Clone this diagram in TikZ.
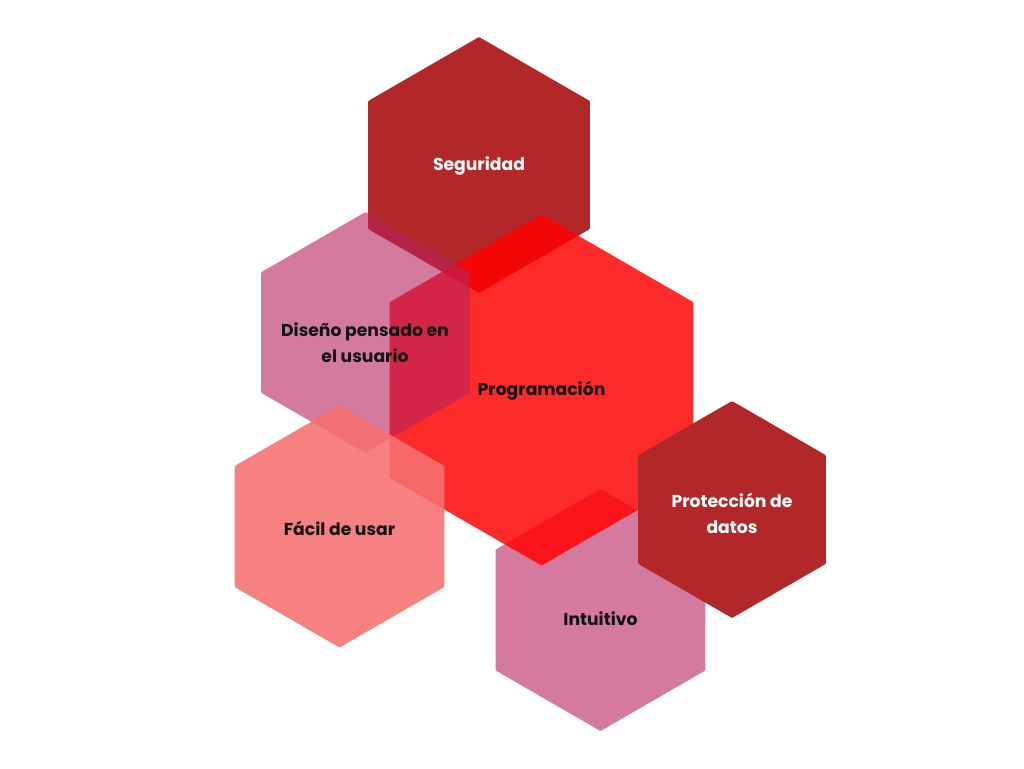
\documentclass[tikz,border=0pt]{standalone}
\usepackage{fontspec}
\setmainfont{Poppins}
\begin{document}
\begin{tikzpicture}[x=1pt,y=-1pt,
  hexa/.style={rounded corners=1pt},
  lbl/.style={font=\fontsize{17.2}{25.5}\selectfont\bfseries, align=center, text=black!93},
  lblw/.style={lbl, text=white}]
\definecolor{darkred}{RGB}{178,40,40}
\definecolor{vivid}{RGB}{255,0,0}
\definecolor{rose}{RGB}{183,33,93}
\definecolor{salmon}{RGB}{246,112,112}
\useasboundingbox (0,0) rectangle (1024,768);
% pointy-top hexagon: centre x, centre y, circumradius
\newcommand{\hexpath}[3]{(#1,#2-#3) -- (#1+0.866*#3,#2-0.5*#3) -- (#1+0.866*#3,#2+0.5*#3) -- (#1,#2+#3) -- (#1-0.866*#3,#2+0.5*#3) -- (#1-0.866*#3,#2-0.5*#3) -- cycle}
% hexagons, back to front
\fill[hexa, darkred] \hexpath{479}{165}{128};
\fill[hexa, rose, fill opacity=0.6] \hexpath{600.5}{610}{121};
\fill[hexa, vivid, fill opacity=0.835] \hexpath{541.5}{390}{175.5};
\fill[hexa, rose, fill opacity=0.6] \hexpath{365.5}{332.5}{120.5};
\fill[hexa, salmon, fill opacity=0.89] \hexpath{339.5}{526.5}{121};
\fill[hexa, darkred] \hexpath{732}{509.5}{108.5};
% labels
\node[lblw] (seg) at (479,166) {Seguridad};
\node[lbl] (prog) at (541.5,391) {Programación};
\node[lbl] (dis) at (365,342.5) {Diseño pensado en\\el usuario};
\node[lbl] (facil) at (339.5,528) {Fácil de usar};
\node[lbl] (intu) at (600.5,619) {Intuitivo};
\node[lblw] (prot) at (732,513.5) {Protección de\\datos};
\end{tikzpicture}
\end{document}
